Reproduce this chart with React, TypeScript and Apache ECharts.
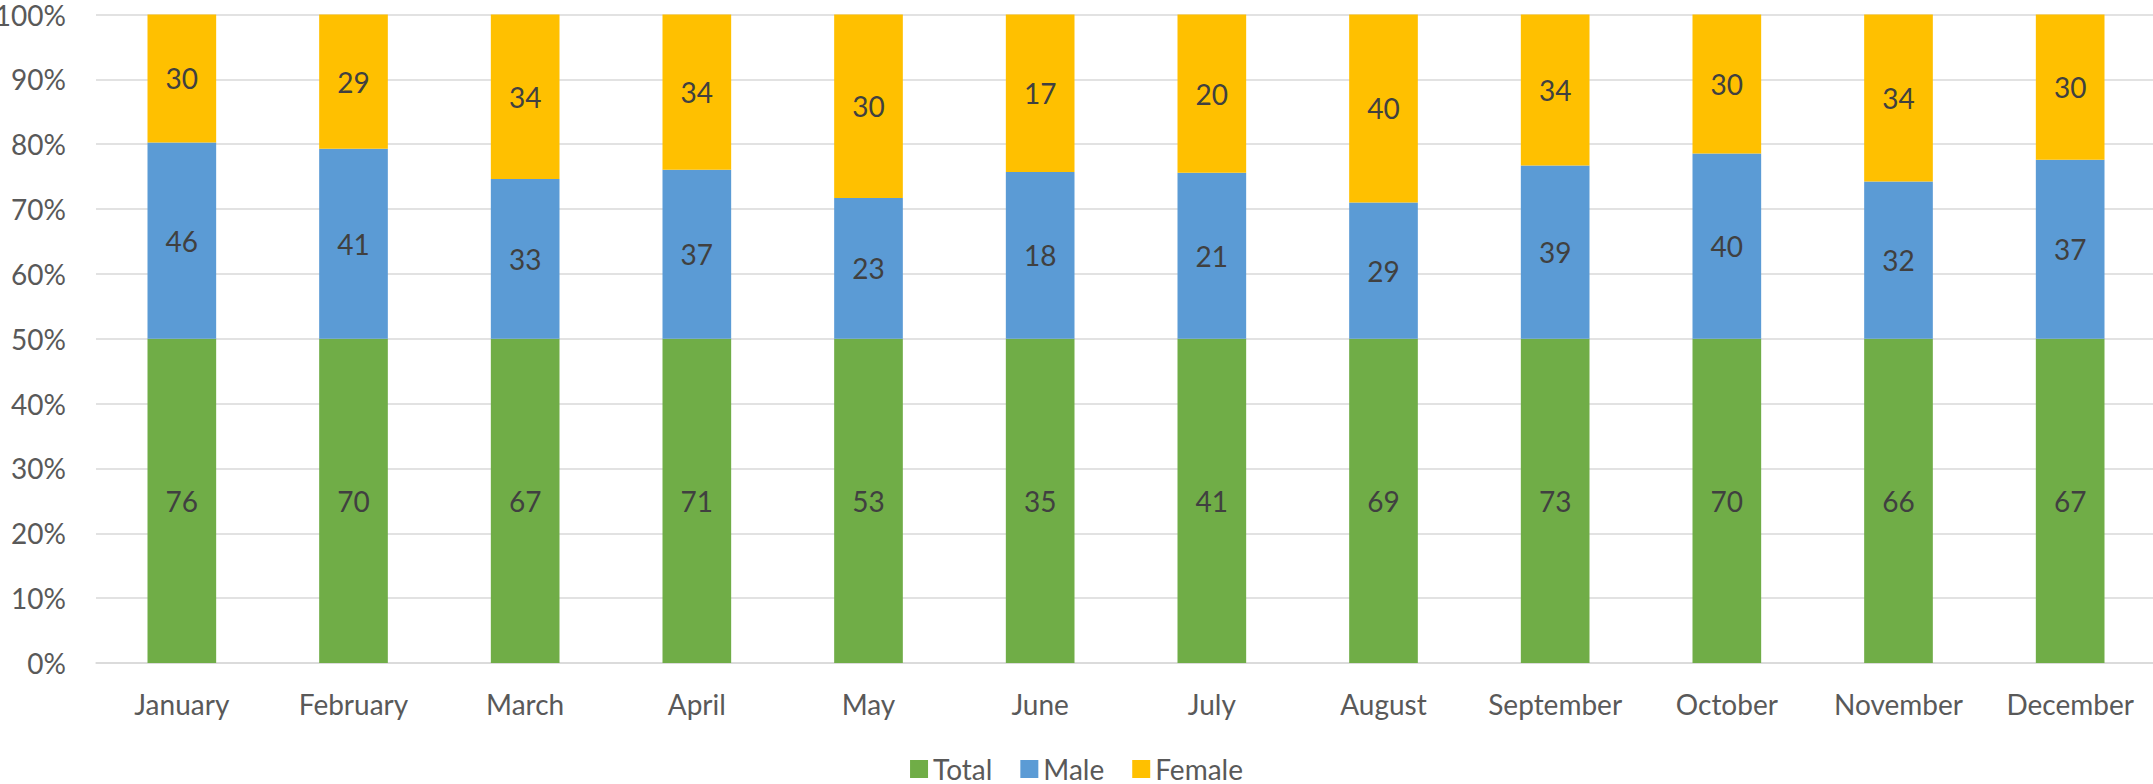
import React, { useEffect, useRef } from "react";
import * as echarts from "echarts";

const categories = ["January", "February", "March", "April", "May", "June", "July", "August", "September", "October", "November", "December"];
const totalValues = [76, 70, 67, 71, 53, 35, 41, 69, 73, 70, 66, 67];
const maleValues = [46, 41, 33, 37, 23, 18, 21, 29, 39, 40, 32, 37];
const femaleValues = [30, 29, 34, 34, 30, 17, 20, 40, 34, 30, 34, 30];
const yTicks = [0, 10, 20, 30, 40, 50, 60, 70, 80, 90, 100];

const FONT = "Lato";

export default function App() {
  const ref = useRef<HTMLDivElement>(null);
  useEffect(() => {
    if (!ref.current) return;
    const chart = echarts.init(ref.current, null, { renderer: "svg" });
    const sums = categories.map((_, i) => totalValues[i] + maleValues[i] + femaleValues[i]);
    const mk = (name: string, raw: number[], color: string) => ({
      name,
      type: "bar",
      stack: "all",
      barCategoryGap: "60%",
      data: raw.map((v, i) => (v / sums[i]) * 100),
      itemStyle: { color },
      label: {
        show: true,
        position: "inside",
        color: "#404040",
        fontFamily: FONT,
        fontSize: 28,
        formatter: (p: any) => String(raw[p.dataIndex]),
      },
    });
    chart.setOption({
      animation: false,
      textStyle: { fontFamily: FONT },
      grid: { left: 96, top: 14.5, width: 2060, height: 648.5, containLabel: false, outerBoundsMode: "none" },
      legend: {
        data: ["Total", "Male", "Female"],
        top: 750,
        left: "center",
        itemWidth: 18,
        itemHeight: 18,
        itemGap: 28,
        icon: "rect",
        textStyle: { color: "#595959", fontFamily: FONT, fontSize: 28, lineHeight: 28, padding: [0, 0, 0, 0] },
      },
      xAxis: {
        type: "category",
        data: categories,
        axisLine: { lineStyle: { color: "#d9d9d9", width: 1.5 } },
        axisTick: { show: false },
        axisLabel: { color: "#595959", fontFamily: FONT, fontSize: 28, margin: 27, interval: 0 },
      },
      yAxis: {
        type: "value",
        min: yTicks[0],
        max: yTicks[yTicks.length - 1],
        interval: 10,
        axisLine: { show: false },
        axisTick: { show: false },
        splitLine: { lineStyle: { color: "#d9d9d9", width: 1.5 } },
        axisLabel: { color: "#595959", fontFamily: FONT, fontSize: 28, margin: 30, formatter: "{value}%" },
      },
      series: [
        mk("Total", totalValues, "#70AD47"),
        mk("Male", maleValues, "#5B9BD5"),
        mk("Female", femaleValues, "#FFC000"),
      ],
    });
    return () => chart.dispose();
  }, []);
  return <div ref={ref} style={{ position: "absolute", left: 0, top: 0, width: 2153, height: 784 }} />;
}
